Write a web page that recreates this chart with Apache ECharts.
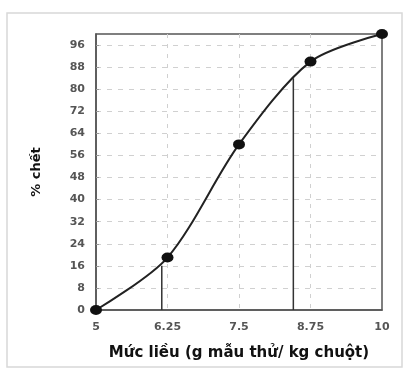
<!DOCTYPE html>
<html>
<head>
<meta charset="utf-8">
<script src="https://cdn.jsdelivr.net/npm/echarts@6/dist/echarts.min.js"></script>
<style>
  html, body { margin: 0; padding: 0; background: #fff; }
  #chart { width: 410px; height: 370px; }
</style>
</head>
<body>
<div id="chart"></div>
<script>
// điểm đo: liều (g/kg) và % chết
const doses = [5, 6.25, 7.5, 8.75, 10];
const deaths = [0, 19, 60, 90, 100];
// đường dóng LD16 / LD84
const ld16 = [6.15, 16];
const ld84 = [8.45, 84];
const xName = "Mức liều (g mẫu thử/ kg chuột)";
const yName = "% chết";

const chart = echarts.init(document.getElementById("chart"));

const labelFont = { fontFamily: "DejaVu Sans", fontSize: 11, fontWeight: "bold", color: "#555" };

const option = {
  animation: false,
  graphic: [
    {
      type: "rect",
      shape: { x: 7, y: 13, width: 395, height: 354 },
      style: { fill: "none", stroke: "#d8d8d8", lineWidth: 1.5 },
      silent: true,
    },
  ],
  grid: {
    left: 96,
    right: 28,
    top: 34,
    bottom: 60,
    show: true,
    borderColor: "#555",
    borderWidth: 1.5,
  },
  xAxis: {
    type: "value",
    min: 5,
    max: 10,
    interval: 1.25,
    name: xName,
    nameLocation: "middle",
    nameGap: 36,
    nameTextStyle: { fontFamily: "DejaVu Sans", fontSize: 15, fontWeight: "bold", color: "#111" },
    axisLine: { lineStyle: { color: "#555", width: 1.5 } },
    axisTick: { show: false },
    axisLabel: Object.assign({ margin: 12 }, labelFont),
    splitLine: { show: true, showMinLine: false, showMaxLine: false, lineStyle: { color: "#d0d0d0", type: [4, 6] } },
  },
  yAxis: {
    type: "value",
    min: 0,
    max: 100,
    interval: 8,
    name: yName,
    nameLocation: "middle",
    nameGap: 53,
    nameTextStyle: { fontFamily: "DejaVu Sans", fontSize: 13, fontWeight: "bold", color: "#111" },
    axisLine: { show: true, lineStyle: { color: "#555", width: 1.5 } },
    axisTick: { show: true, length: 3, inside: true, lineStyle: { color: "#999" } },
    axisLabel: Object.assign({ margin: 11, showMaxLabel: false }, labelFont),
    splitLine: { show: true, showMinLine: false, showMaxLine: false, lineStyle: { color: "#d0d0d0", type: [5, 6] } },
  },
  series: [
    {
      type: "line",
      data: [[ld16[0], 0], ld16],
      symbol: "none",
      lineStyle: { color: "#333", width: 1.5 },
    },
    {
      type: "line",
      data: [[ld84[0], 0], ld84],
      symbol: "none",
      lineStyle: { color: "#333", width: 1.5 },
    },
    {
      type: "line",
      data: doses.map((d, i) => [d, deaths[i]]),
      smooth: 0.3,
      symbol: "circle",
      symbolSize: [12, 10],
      itemStyle: { color: "#111" },
      lineStyle: { color: "#222", width: 2 },
      z: 5,
    },
  ],
};

chart.setOption(option);
window.onresize = function () {
  chart.resize();
};
</script>
</body>
</html>
